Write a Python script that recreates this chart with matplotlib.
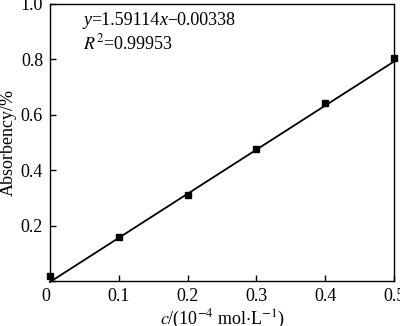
import matplotlib.pyplot as plt
import numpy as np

plt.rcParams['font.family'] = ['Liberation Serif', 'DejaVu Serif']
plt.rcParams['mathtext.fontset'] = 'stix'

conc = [0.0, 0.1, 0.2, 0.3, 0.4, 0.5]
absorb = [0.017, 0.160, 0.310, 0.476, 0.642, 0.805]
slope, intercept = 1.59114, -0.00338
xticks = [0, 0.1, 0.2, 0.3, 0.4, 0.5]
xticklabels = ['0', '0.1', '0.2', '0.3', '0.4', '0.5']
yticks = [0, 0.2, 0.4, 0.6, 0.8, 1.0]
yticklabels = ['', '0.2', '0.4', '0.6', '0.8', '1.0']

fig = plt.figure(figsize=(4.0, 3.26), dpi=100)
ax = fig.add_axes([0.125, 0.138, 0.86, 0.85])

xs = np.array([0.0, 0.5])
ax.plot(xs, slope * xs + intercept, color='black', lw=1.3, clip_on=False)
ax.plot(conc, absorb, 's', color='black', ms=5, clip_on=False, zorder=3)

ax.set_xlim(0, 0.5)
ax.set_ylim(0, 1.0)
ax.set_xticks(xticks)
ax.set_xticklabels(xticklabels)
ax.set_yticks(yticks)
ax.set_yticklabels(yticklabels)
ax.tick_params(direction='in', labelsize=13, length=4, width=1, pad=5)
ax.get_xticklabels()[0].set_horizontalalignment('right')
for s in ax.spines.values():
    s.set_linewidth(1)

ax.set_xlabel(r'$c$/(10$^{-4}$ mol$\cdot$L$^{-1}$)', fontsize=13, labelpad=2)
ax.set_ylabel('Absorbency/%', fontsize=13, labelpad=3)

# equation built from plain text pieces (italic for variables)
pieces = [('y', 'italic'), ('=1.59114', 'normal'), ('x', 'italic'),
          ('\u22120.00338', 'normal')]
prev = ax.text(0.096, 0.91, pieces[0][0], transform=ax.transAxes,
               fontsize=13, style=pieces[0][1], va='bottom')
for txt, st in pieces[1:]:
    prev = ax.annotate(txt, xy=(1, 0), xycoords=prev, fontsize=13, style=st,
                       va='bottom', ha='left')
ax.text(0.096, 0.895, r'$R^2$=0.99953', transform=ax.transAxes,
        fontsize=13, va='top')

fig.savefig('out.png', dpi=100)
